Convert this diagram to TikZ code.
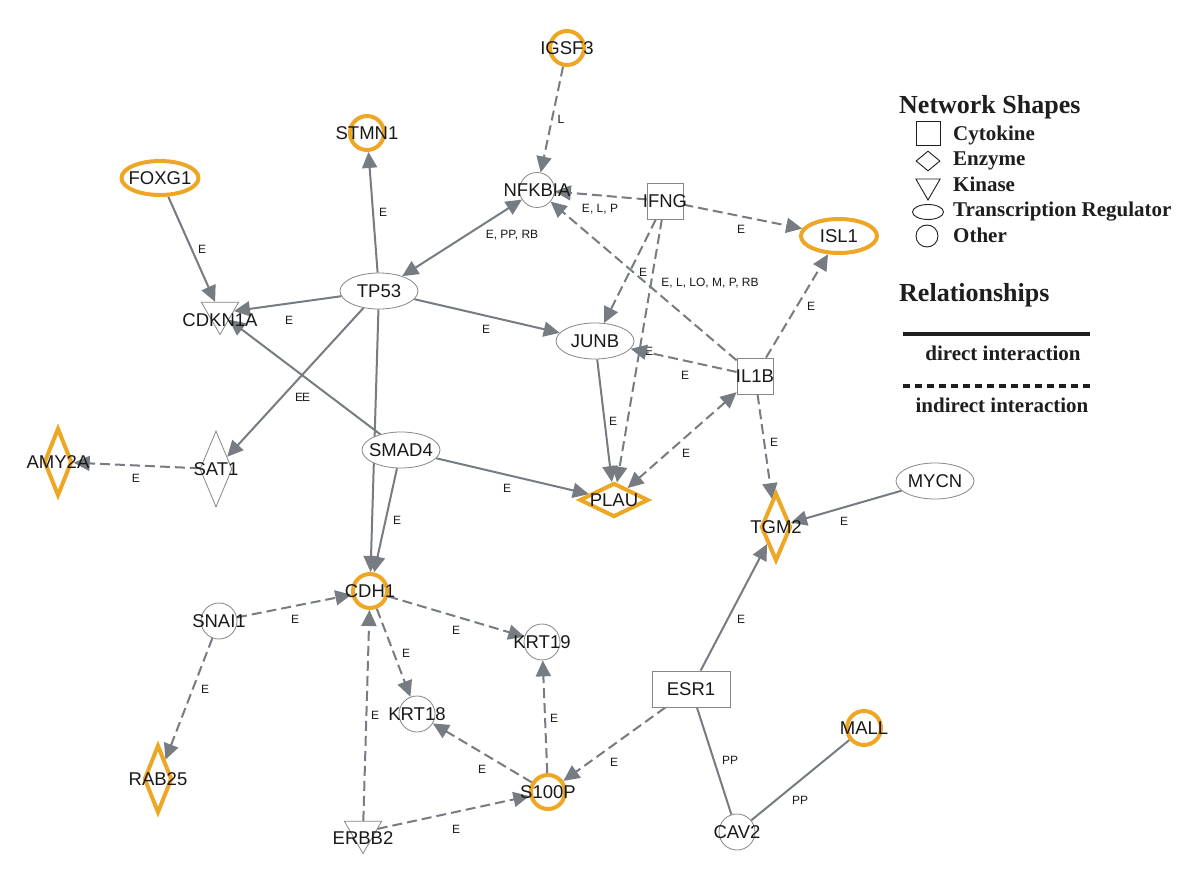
\documentclass[tikz,border=0pt]{standalone}
\usepackage{fontspec}
\setmainfont{Liberation Sans}
\newfontfamily\legendfont{Liberation Serif}
\usetikzlibrary{shapes.geometric,arrows.meta}
\pgfdeclarelayer{background}
\pgfdeclarelayer{canvas}
\pgfsetlayers{canvas,background,main}
\definecolor{edgegray}{RGB}{118,124,130}
\definecolor{hiorange}{RGB}{238,167,36}
\definecolor{nodegray}{RGB}{135,135,135}
\definecolor{txt}{RGB}{25,25,25}
\definecolor{legtxt}{RGB}{30,30,30}
\newcommand\gnfont{\fontsize{18.5}{20}\selectfont}
\newcommand\gelfont{\fontsize{12}{13}\selectfont}
\begin{document}
\begin{tikzpicture}[x=1pt,y=-1pt,
  every label/.style={font=\gnfont, text=txt, inner sep=0pt},
  gbase/.style={fill=white, inner sep=0pt, draw=nodegray, line width=0.8pt},
  hi/.style={draw=hiorange, line width=4pt},
  othr/.style={gbase, circle, minimum size=36pt},
  othrhi/.style={othr, hi, minimum size=34pt},
  trx/.style={gbase, ellipse, minimum width=78pt, minimum height=36pt},
  trxhi/.style={trx, hi, minimum width=77pt, minimum height=34pt},
  cyto/.style={gbase, rectangle, minimum width=36pt, minimum height=36pt},
  enz/.style={gbase, diamond, minimum width=32pt, minimum height=76pt},
  enzhi/.style={gbase, diamond, hi, minimum width=28pt, minimum height=68pt},
  kin/.style={gbase, regular polygon, regular polygon sides=3, shape border rotate=180, minimum size=43pt},
  dirE/.style={draw=edgegray, line width=2pt, -{Triangle[length=16pt,width=15pt]}},
  indE/.style={dirE, dash pattern=on 10pt off 5pt},
  bothE/.style={draw=edgegray, line width=2pt, {Triangle[length=16pt,width=15pt]}-{Triangle[length=16pt,width=15pt]}},
  bothI/.style={bothE, dash pattern=on 10pt off 5pt},
  plainE/.style={draw=edgegray, line width=2pt},
  elab/.style={font=\gelfont, text=txt, inner sep=0pt},
  legtitle/.style={font=\legendfont\bfseries\fontsize{26}{28}\selectfont, text=legtxt, inner sep=0pt, anchor=base west},
  legitem/.style={font=\legendfont\bfseries\fontsize{21}{23}\selectfont, text=legtxt, inner sep=0pt, anchor=base west},
  legrel/.style={font=\legendfont\bfseries\fontsize{21}{23}\selectfont, text=legtxt, inner sep=0pt, anchor=base},
  legshape/.style={draw=legtxt, line width=0.9pt, inner sep=0pt, fill=white}
]
\begin{pgfonlayer}{canvas}
\fill[white] (0,0) rectangle (1200,877);
\end{pgfonlayer}
\useasboundingbox (0,0) rectangle (1200,877);

% ---- nodes ----
\node[othrhi, label={center:IGSF3}] (igsf3) at (567,48) {};
\node[othrhi, label={center:STMN1}] (stmn1) at (367,133) {};
\node[trxhi, label={center:FOXG1}] (foxg1) at (160,178) {};
\node[othr, minimum size=35pt, label={center:NFKBIA}] (nfkbia) at (537,190) {};
\node[cyto, label={center:IFNG}] (ifng) at (665,201) {};
\node[trxhi, minimum width=76pt, label={center:ISL1}] (isl1) at (839,236) {};
\node[trx, label={center:TP53}] (tp53) at (379,291) {};
\node[kin, label={[yshift=-7pt]center:CDKN1A}] (cdkn1a) at (220,313) {};
\node[trx, label={center:JUNB}] (junb) at (595,341) {};
\node[cyto, label={center:IL1B}] (il1b) at (755,376) {};
\node[enzhi, label={center:AMY2A}] (amy2a) at (58,462) {};
\node[enz, label={center:SAT1}] (sat1) at (216,469) {};
\node[trx, label={center:SMAD4}] (smad4) at (401,450) {};
\node[gbase, diamond, hi, minimum width=69pt, minimum height=34pt, label={center:PLAU}] (plau) at (614,500) {};
\node[trx, label={center:MYCN}] (mycn) at (935,481) {};
\node[enzhi, minimum width=30pt, label={center:TGM2}] (tgm2) at (776,527) {};
\node[othrhi, label={center:CDH1}] (cdh1) at (370,591) {};
\node[othr, label={center:SNAI1}] (snai1) at (219,621) {};
\node[othr, label={center:KRT19}] (krt19) at (542,642) {};
\node[cyto, minimum width=78pt, label={center:ESR1}] (esr1) at (691,689) {};
\node[othr, label={center:KRT18}] (krt18) at (417,714) {};
\node[othrhi, label={center:MALL}] (mall) at (864,728) {};
\node[enzhi, label={center:RAB25}] (rab25) at (158,779) {};
\node[othrhi, label={center:S100P}] (s100p) at (548,792) {};
\node[kin, label={[yshift=-6pt]center:ERBB2}] (erbb2) at (363,832) {};
\node[othr, label={center:CAV2}] (cav2) at (737,832) {};

% ---- connectors ----
\begin{pgfonlayer}{background}
\draw[indE] (igsf3) -- (nfkbia) node[elab] at (561,119) {L};
\draw[dirE] (tp53) -- (stmn1) node[elab] at (383,212) {E};
\draw[dirE] (foxg1) -- (cdkn1a) node[elab] at (202,249) {E};
\draw[bothE] (tp53) -- (nfkbia) node[elab] at (512,235) {E, PP, RB};
\draw[indE] (ifng) -- (nfkbia) node[elab] at (600,209) {E, L, P};
\draw[indE] (ifng) -- (isl1) node[elab] at (741,229) {E};
\draw[indE] (il1b) -- (nfkbia) node[elab] at (710,283) {E, L, LO, M, P, RB};
\draw[indE] (ifng) -- (junb) node[elab] at (643,272) {E};
\draw[indE] (ifng) -- (plau) node[elab] at (649,351) {E};
\draw[indE] (il1b) -- (junb) node[elab] at (685,375) {E};
\draw[indE] (il1b) -- (isl1) node[elab] at (811,306) {E};
\draw[bothI] (il1b) -- (plau) node[elab] at (686,453) {E};
\draw[indE] (il1b) -- (tgm2) node[elab] at (774,442) {E};
\draw[dirE] (junb) -- (plau) node[elab] at (613,421) {E};
\draw[dirE] (tp53) -- (junb) node[elab] at (486,329) {E};
\draw[dirE] (tp53) -- (cdkn1a) node[elab] at (289,320) {E};
\draw[dirE] (smad4) -- (cdkn1a) node[elab] at (306,397) {E};
\draw[dirE] (tp53) -- (sat1) node[elab] at (299,397) {E};
\draw[indE] (sat1) -- (amy2a) node[elab] at (136,478) {E};
\draw[dirE] (tp53) -- (cdh1);
\draw[dirE] (smad4) -- (cdh1) node[elab] at (397,520) {E};
\draw[dirE] (smad4) -- (plau) node[elab] at (507,488) {E};
\draw[dirE] (mycn) -- (tgm2) node[elab] at (844,521) {E};
\draw[dirE] (esr1) -- (tgm2) node[elab] at (741,619) {E};
\draw[indE] (esr1) -- (s100p) node[elab] at (614,762) {E};
\draw[plainE] (esr1) -- (cav2) node[elab] at (730,760) {PP};
\draw[plainE] (cav2) -- (mall) node[elab] at (800,800) {PP};
\draw[indE] (snai1) -- (cdh1) node[elab] at (295,619) {E};
\draw[indE] (snai1) -- (rab25) node[elab] at (205,689) {E};
\draw[indE] (cdh1) -- (krt19) node[elab] at (456,630) {E};
\draw[indE] (cdh1) -- (krt18) node[elab] at (406,653) {E};
\draw[indE] (erbb2) -- (cdh1) node[elab] at (375,715) {E};
\draw[indE] (s100p) -- (krt18) node[elab] at (482,769) {E};
\draw[indE] (s100p) -- (krt19) node[elab] at (554,718) {E};
\draw[indE] (erbb2) -- (s100p) node[elab] at (456,829) {E};
\end{pgfonlayer}

% ---- legend ----
\node[legtitle] (lgtitle) at (899,114) {Network Shapes};
\node[legshape, rectangle, minimum size=24pt] (lgcyto) at (928,133) {};
\node[legitem] (lgcytot) at (953,141) {Cytokine};
\node[legshape, diamond, minimum width=24pt, minimum height=20pt] (lgenz) at (928,161) {};
\node[legitem] (lgenzt) at (953,166) {Enzyme};
\node[legshape, regular polygon, regular polygon sides=3, shape border rotate=180, minimum size=28pt] (lgkin) at (928,186) {};
\node[legitem] (lgkint) at (953,192) {Kinase};
\node[legshape, ellipse, minimum width=31pt, minimum height=15pt] (lgtr) at (928,212) {};
\node[legitem] (lgtrt) at (953,217) {Transcription Regulator};
\node[legshape, circle, minimum size=22pt] (lgoth) at (927,236) {};
\node[legitem] (lgotht) at (953,243) {Other};
\node[legtitle] (lgrel) at (899,302) {Relationships};
\coordinate (ls1) at (903,334);
\coordinate (ls2) at (1090,334);
\draw[legtxt, line width=4.5pt] (ls1) -- (ls2);
\node[legrel] (lgdir) at (1003,361) {direct interaction};
\coordinate (ld1) at (903,386);
\coordinate (ld2) at (1090,386);
\draw[legtxt, line width=4.5pt, dash pattern=on 7pt off 5pt] (ld1) -- (ld2);
\node[legrel] (lgind) at (1002,412) {indirect interaction};
\end{tikzpicture}
\end{document}
